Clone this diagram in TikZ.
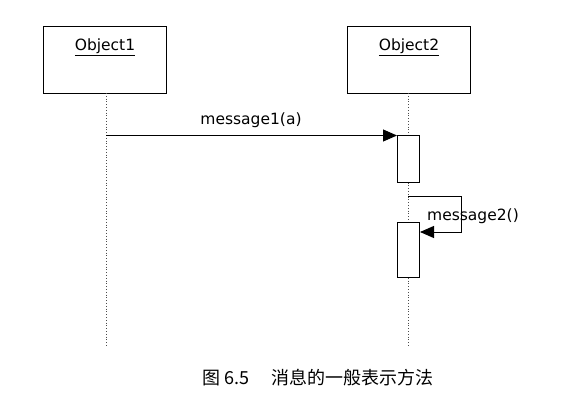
\documentclass[tikz,border=0pt]{standalone}
\usepackage{fontspec}
\setmainfont{DejaVu Sans}
\newfontfamily\cjk{Noto Sans CJK SC}
\usetikzlibrary{arrows.meta}
\begin{document}
\begin{tikzpicture}[x=1pt,y=-1pt,
  objbox/.style={draw,line width=1.1pt,minimum width=123pt,minimum height=67pt,anchor=north west,inner sep=0pt},
  lifeline/.style={draw=black!70,dotted,line width=0.8pt},
  actbox/.style={draw,fill=white,line width=1pt,minimum width=22pt,inner sep=0pt,anchor=north west},
  msg/.style={line width=1pt,-{Triangle[length=14pt,width=12pt]}},
  lbl/.style={font=\fontsize{15.5}{18}\selectfont,inner sep=1pt}]
\useasboundingbox (0,0) rectangle (562,406);
\node[objbox] (o1) at (43,26) {};
\node[objbox] (o2) at (347,26) {};
\node[lbl] (t1) at (105,47) {\underline{Object1}};
\node[lbl] (t2) at (409,47) {\underline{Object2}};
\coordinate (l1e) at (106,346);
\coordinate (l2e) at (408,346);
\draw[lifeline] (106,93) -- (l1e);
\draw[lifeline] (408,93) -- (l2e);
\node[actbox,minimum height=47pt] (a1) at (397,135) {};
\node[actbox,minimum height=55pt] (a2) at (397,222) {};
\coordinate (m1s) at (106,135.5);
\draw[msg] (m1s) -- (a1.north west |- m1s);
\node[lbl] (m1) at (251,120) {message1(a)};
\coordinate (s0) at (408,197);
\coordinate (s1) at (461,197);
\coordinate (s2) at (461,232);
\draw[msg] (s0) -- (s1) -- (s2) -- (a2.north east |- s2);
\node[lbl,anchor=west] (m2) at (426,216) {message2()};
\node[font=\cjk\fontsize{18}{20}\selectfont,anchor=west] (cap) at (199,378) {图 6.5\quad\ 消息的一般表示方法};
\end{tikzpicture}
\end{document}
